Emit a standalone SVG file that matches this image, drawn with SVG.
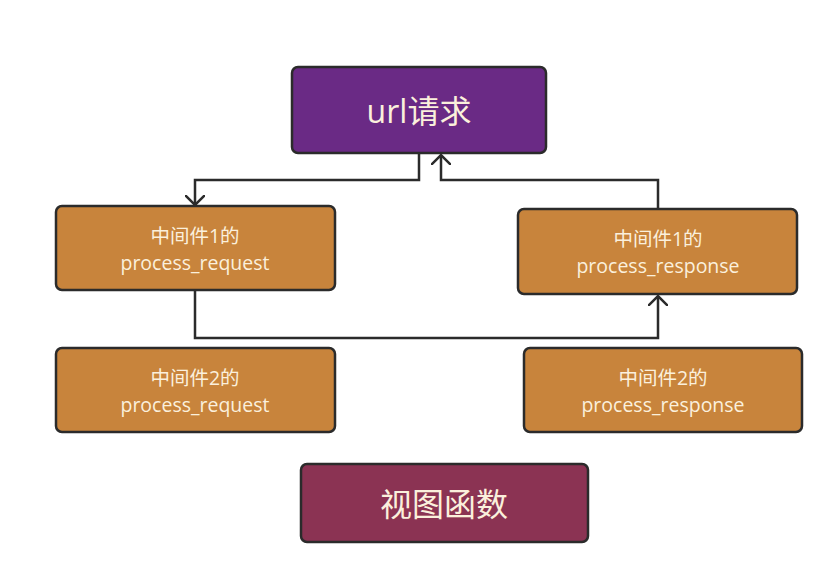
<svg xmlns="http://www.w3.org/2000/svg" width="834" height="580" viewBox="0 0 834 580">
<style>
.box{stroke:#2b2b2b;stroke-width:2.5}
.org{fill:#c8843c}
.t{font-family:"Open Sans","Noto Sans CJK SC",sans-serif;fill:#fbf0dc;text-anchor:middle}
.s{font-size:19.5px}
.big{font-size:32px}
.conn{fill:none;stroke:#2b2b2b;stroke-width:2.5}
</style>
<defs>
<marker id="arr" viewBox="0 0 20 20" refX="10" refY="10" markerWidth="20" markerHeight="20" markerUnits="userSpaceOnUse" orient="auto">
<path d="M0,0 L10,10 L0,20" fill="none" stroke="#2b2b2b" stroke-width="2.5"/>
</marker>
</defs>
<rect width="834" height="580" fill="#ffffff"/>
<g id="connectors">
<path class="conn" d="M419,153 V180 H195 V205" marker-end="url(#arr)"/>
<path class="conn" d="M658,209 V180 H441 V155" marker-end="url(#arr)"/>
<path class="conn" d="M195,290 V338 H658 V296" marker-end="url(#arr)"/>
</g>
<g id="url">
<rect class="box" x="292" y="67" width="254" height="86" rx="6" fill="#6a2a85"/>
<text class="t big" x="419" y="123">url请求</text>
</g>
<g id="mw1req">
<rect class="box org" x="56" y="206" width="279" height="84" rx="6"/>
<text class="t s" x="195" y="243">中间件1的</text>
<text class="t s" x="195" y="270">process_request</text>
</g>
<g id="mw1resp">
<rect class="box org" x="518" y="209" width="279" height="85" rx="6"/>
<text class="t s" x="658" y="246">中间件1的</text>
<text class="t s" x="658" y="273">process_response</text>
</g>
<g id="mw2req">
<rect class="box org" x="56" y="348" width="279" height="84" rx="6"/>
<text class="t s" x="195" y="385">中间件2的</text>
<text class="t s" x="195" y="412">process_request</text>
</g>
<g id="mw2resp">
<rect class="box org" x="524" y="348" width="278" height="84" rx="6"/>
<text class="t s" x="663" y="385">中间件2的</text>
<text class="t s" x="663" y="412">process_response</text>
</g>
<g id="view">
<rect class="box" x="301" y="464" width="287" height="78" rx="6" fill="#8b3353"/>
<text class="t big" x="444" y="516">视图函数</text>
</g>
</svg>
